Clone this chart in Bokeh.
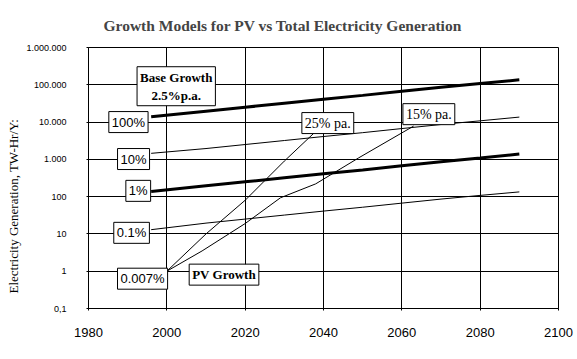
from bokeh.plotting import figure
from bokeh.models import Label, FixedTicker, Title
from bokeh.embed import file_html
from bokeh.resources import INLINE

# ---- data ----
years_base = [1996, 2010, 2020, 2030, 2040, 2050, 2060, 2070, 2080, 2090]
base_100 = [13800, 19500, 25000, 32000, 41000, 52000, 67000, 86000, 108000, 136000]
base_10 = [1450, 1950, 2500, 3200, 4100, 5200, 6700, 8600, 10800, 13600]
base_1 = [138, 195, 250, 320, 410, 520, 670, 860, 1080, 1390]
base_01 = [13, 19.5, 25, 32, 41, 52, 67, 86, 108, 134]

pv25_years = [2000, 2010, 2020, 2030, 2037.6]
pv25 = [1, 10, 80, 900, 5100]
pv15_years = [2000, 2009, 2020, 2029, 2038, 2049, 2063]
pv15 = [1, 3.5, 19, 93, 220, 1100, 7800]

x_ticks = [1980, 2000, 2020, 2040, 2060, 2080, 2100]
y_ticks = [0.1, 1, 10, 100, 1000, 10000, 100000, 1000000]
y_tick_labels = ["0,1", "1", "10", "100", "1.000", "10.000", "100.000", "1.000.000"]

SERIF = "Liberation Serif"
SANS = "Liberation Sans"

p = figure(width=577, height=359, x_range=(1980, 2100), y_range=(0.1, 1e6),
           y_axis_type="log", output_backend="svg", toolbar_location=None,
           min_border_left=87, min_border_right=19, min_border_top=46, min_border_bottom=51,
           title="Growth Models for PV vs Total Electricity Generation")

p.title.text_font = SERIF
p.title.text_font_size = "15.5px"
p.title.text_font_style = "bold"
p.title.align = "left"
p.title.offset = 15
p.title.standoff = 28

p.outline_line_color = "black"
p.outline_line_width = 1
p.background_fill_color = "white"
p.border_fill_color = "white"

p.xaxis.ticker = FixedTicker(ticks=x_ticks)
p.yaxis.ticker = FixedTicker(ticks=y_ticks)
p.yaxis.major_label_overrides = {t: l for t, l in zip(y_ticks, y_tick_labels)}
p.yaxis.minor_tick_line_color = None
p.xaxis.minor_tick_line_color = None
for ax in (p.xaxis, p.yaxis):
    ax.axis_line_color = "black"
    ax.major_tick_line_color = "black"
    ax.major_tick_out = 2
    ax.major_tick_in = 0
    ax.major_label_text_color = "black"
    ax.major_label_text_font = SANS
p.xaxis.major_label_text_font_size = "13px"
p.xaxis.major_label_standoff = 17
p.yaxis.major_label_text_font_size = "9px"
p.yaxis.major_label_standoff = 20

p.xgrid.grid_line_color = "black"
p.ygrid.grid_line_color = "black"
p.xgrid.grid_line_width = 1
p.ygrid.grid_line_width = 1

# y-axis title as a left-side title panel
ytitle = Title(text="Electricity Generation, TW-Hr/Y:", align="left", offset=15,
               text_font=SERIF, text_font_size="13px", text_font_style="normal",
               text_color="black", standoff=6)
p.add_layout(ytitle, "left")

# ---- lines ----
p.line(years_base, base_100, line_color="black", line_width=3)
p.line(years_base, base_10, line_color="black", line_width=1)
p.line(years_base, base_1, line_color="black", line_width=3)
p.line(years_base, base_01, line_color="black", line_width=1)
p.line(pv25_years, pv25, line_color="black", line_width=1)
p.line(pv15_years, pv15, line_color="black", line_width=1)

# ---- boxed labels ----
def box(x, y, text, font, size, style="normal", pad=3):
    p.add_layout(Label(x=x, y=y, text=text, text_align="center", text_baseline="middle",
                       text_font=font, text_font_size=size, text_font_style=style,
                       text_color="black", border_line_color="black", border_line_width=1,
                       background_fill_color="white", padding=pad))

box(2002.4, 91500, "Base Growth\n2.5%p.a.", SERIF, "13px", "bold", 3)
box(1990.2, 10000, "100%", SANS, "13px")
box(1991.5, 1020, "10%", SANS, "13px")
box(1992.7, 143, "1%", SANS, "13px")
box(1991.0, 10.7, "0.1%", SANS, "13px")
box(1993.8, 0.63, "0.007%", SANS, "13px")
box(2014.6, 0.81, "PV Growth", SERIF, "13px", "bold")
box(2041.1, 9400, "25% pa.", SERIF, "14px")
box(2066.9, 16300, "15% pa.", SERIF, "14px")

open("out.html", "w").write(file_html(p, INLINE))
